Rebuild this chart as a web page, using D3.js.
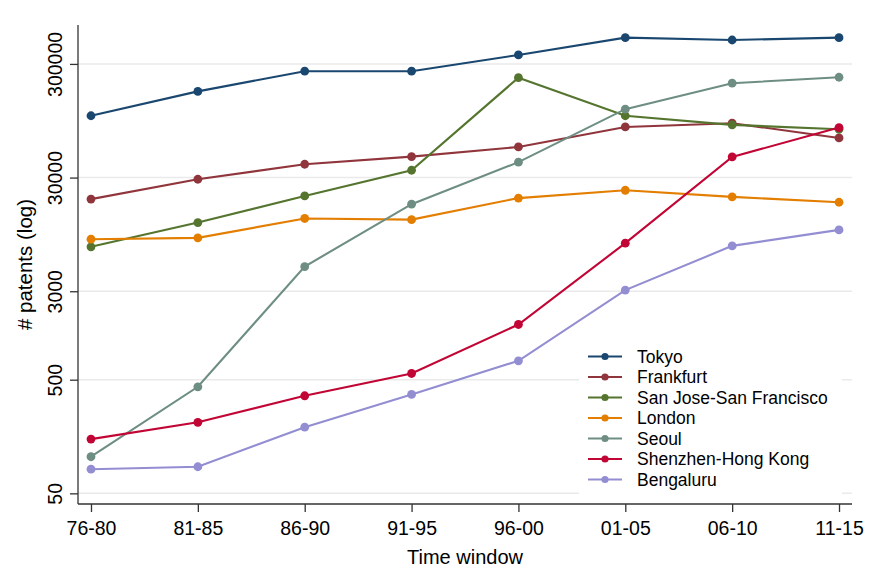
<!DOCTYPE html>
<html><head><meta charset="utf-8">
<script src="https://cdn.jsdelivr.net/npm/d3@7"></script>
<style>body{margin:0;background:#fff}svg{display:block}text{font-family:"Liberation Sans",Arial,sans-serif;fill:#000}</style>
</head><body><svg id="c" width="870" height="569"></svg>
<script>
const periods = ["76-80","81-85","86-90","91-95","96-00","01-05","06-10","11-15"];
const yTicks = [50,500,3000,30000,300000];
const cities = ["Tokyo","Frankfurt","San Jose-San Francisco","London","Seoul","Shenzhen-Hong Kong","Bengaluru"];
const tokyo     = [105000,172000,259000,259000,360000,511000,487000,511000];
const frankfurt = [19400,29000,39300,45900,55800,83700,90300,67000];
const sanJose   = [7380,12060,20700,34800,227000,105000,87300,79900];
const london    = [8610,8850,13100,12800,19800,23200,20300,18200];
const seoul     = [105,433,4950,17500,41000,120000,203000,229000];
const shenzhen  = [150,211,361,567,1530,7950,45600,82600];
const bengaluru = [81.6,85.7,191,371,733,3070,7520,10400];
const colors = ["#1a476f","#90353b","#55752f","#e37e00","#6e8e84","#c10534","#938dd2"];
const seriesVals = [tokyo,frankfurt,sanJose,london,seoul,shenzhen,bengaluru];

const svg = d3.select("#c");
const L=78,R=852,T=25,B=504;
const x = d3.scalePoint().domain(periods).range([L,R]).padding(0.1215);
const y = d3.scaleLog().domain([40.3,660000]).range([B,T]);

// gridlines
svg.append("g").selectAll("line").data(yTicks).join("line")
  .attr("x1",L).attr("x2",R).attr("y1",d=>y(d)).attr("y2",d=>y(d))
  .attr("stroke","#eaeaea").attr("stroke-width",1.5);

// axes
const yAxis = svg.append("g").attr("transform",`translate(${L},0)`)
  .call(d3.axisLeft(y).tickValues(yTicks).tickFormat(d3.format("d")).tickSize(8).tickPadding(0));
yAxis.select(".domain").attr("d",`M0,${T}V${B}`).attr("stroke","#333").attr("stroke-width",1.3);
yAxis.selectAll(".tick line").attr("stroke","#333").attr("stroke-width",1.3);
yAxis.selectAll(".tick text").attr("transform","rotate(-90)").attr("x",0).attr("y",-16)
  .attr("dy",0).attr("text-anchor","middle").style("font-size","19.5px").attr("fill","#000");

const xAxis = svg.append("g").attr("transform",`translate(0,${B})`)
  .call(d3.axisBottom(x).tickSize(8).tickPadding(0));
xAxis.select(".domain").attr("d",`M${L},0H${R}`).attr("stroke","#333").attr("stroke-width",1.3);
xAxis.selectAll(".tick line").attr("stroke","#333").attr("stroke-width",1.3);
xAxis.selectAll(".tick text").attr("y",31).attr("dy",0).style("font-size","19.5px").attr("fill","#000");

svg.append("text").attr("x",(L+R)/2).attr("y",564).attr("text-anchor","middle").style("font-size","20px").text("Time window");
svg.append("text").attr("transform",`translate(32,${(T+B)/2}) rotate(-90)`).attr("text-anchor","middle").style("font-size","20.5px").text("# patents (log)");

// lines
const line = d3.line().x((d,i)=>x(periods[i])).y(d=>y(d));
seriesVals.forEach((vals,k)=>{
  const g = svg.append("g");
  g.append("path").datum(vals).attr("d",line).attr("fill","none").attr("stroke",colors[k]).attr("stroke-width",2.1);
  g.selectAll("circle").data(vals).join("circle").attr("cx",(d,i)=>x(periods[i])).attr("cy",d=>y(d)).attr("r",4.4).attr("fill",colors[k]);
});

// legend
const lg = svg.append("g");
lg.append("rect").attr("x",579).attr("y",341).attr("width",263).attr("height",156).attr("fill","#fff");
cities.forEach((c,k)=>{
  const yy = 356.5 + k*20.5;
  lg.append("line").attr("x1",588).attr("x2",622).attr("y1",yy).attr("y2",yy).attr("stroke",colors[k]).attr("stroke-width",2);
  lg.append("circle").attr("cx",605).attr("cy",yy).attr("r",3.6).attr("fill",colors[k]);
  lg.append("text").attr("x",637).attr("y",yy+6).style("font-size","17.5px").text(c);
});
</script></body></html>
